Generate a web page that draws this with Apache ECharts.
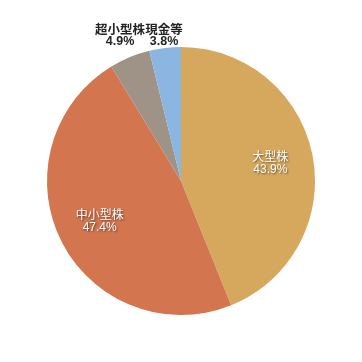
<!DOCTYPE html>
<html><head><meta charset="utf-8">
<script src="https://cdn.jsdelivr.net/npm/echarts@6/dist/echarts.min.js"></script>
<style>html,body{margin:0;padding:0;background:#fff}#c{width:362px;height:362px}</style>
</head><body><div id="c"></div>
<script>
const categories = ['大型株', '中小型株', '超小型株', '現金等'];
const values = [43.9, 47.4, 4.9, 3.8];
const colors = ['#D6A85D', '#D3764F', '#9E9386', '#8AB6E1'];
const insideIdx = [0, 1];

const CX = 181, CY = 181, R = 134;
// outside label anchor (center x) for the small slices, bottom aligned above the pie
const outerLabelX = {2: 120, 3: 164};
const outerLabelBottom = 47;

const chart = echarts.init(document.getElementById('c'), null, {renderer: 'canvas'});
const font = '"Liberation Sans", Arial, "Noto Sans CJK JP", sans-serif';
const data = categories.map((name, i) => {
  const inside = insideIdx.includes(i);
  return {
    name, value: values[i],
    itemStyle: {color: colors[i]},
    label: inside ? {
      position: 'inner', color: '#fff', fontSize: 12, fontFamily: font, lineHeight: 12,
      textShadowColor: 'rgba(0,0,0,0.55)', textShadowBlur: 2, textShadowOffsetX: 1, textShadowOffsetY: 1
    } : {
      position: 'outside', color: '#222', fontSize: 12.5, fontWeight: 'bold', fontFamily: font, lineHeight: 11
    },
    labelLine: {show: false, length: 8, length2: 0}
  };
});
chart.setOption({
  animation: false,
  series: [{
    type: 'pie',
    center: [CX, CY],
    radius: [0, R],
    startAngle: 90,
    clockwise: true,
    data,
    label: {
      formatter: p => p.name + '\n' + p.value.toFixed(1) + '%',
      align: 'center'
    },
    labelLayout: p => {
      if (insideIdx.includes(p.dataIndex)) {
        const r = p.labelRect;
        const lx = r.x + r.width / 2, ly = r.y + r.height / 2;
        return {dx: (lx - CX) * 0.3, dy: (ly - CY) * 0.3};
      }
      return {x: outerLabelX[p.dataIndex], y: outerLabelBottom, align: 'center', verticalAlign: 'bottom'};
    }
  }]
});
</script></body></html>
